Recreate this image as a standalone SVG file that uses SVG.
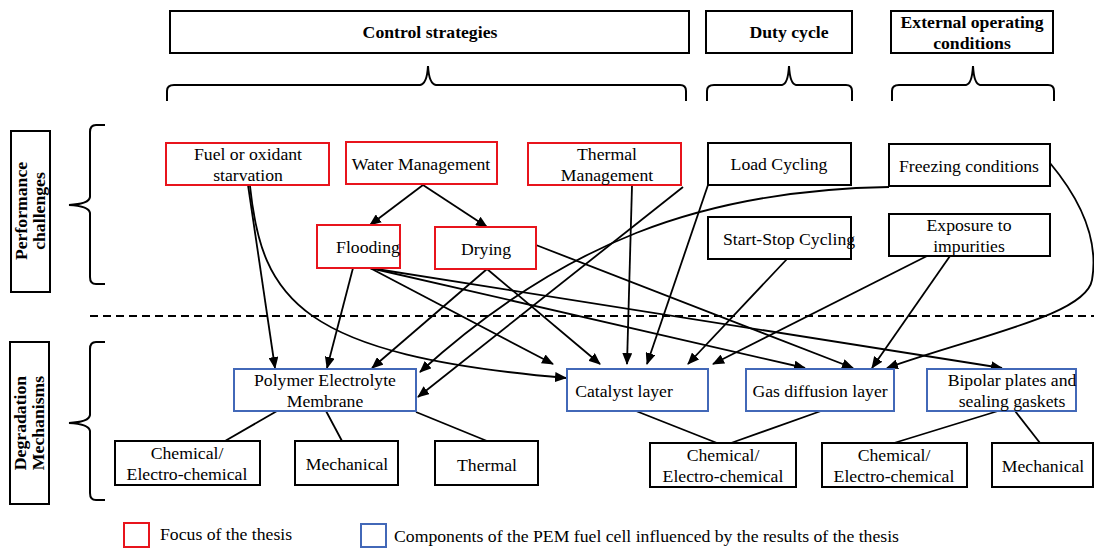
<svg xmlns="http://www.w3.org/2000/svg" width="1094" height="548" viewBox="0 0 1094 548">
<style>
text{font-family:"Liberation Serif","Times New Roman",serif;font-size:17.7px;fill:#000;text-anchor:middle}
.b{font-weight:bold}
.lg{text-anchor:start}
.bx{fill:#fff;stroke:#000;stroke-width:2}
.red{fill:#fff;stroke:#e8141c;stroke-width:2}
.blue{fill:#fff;stroke:#4268b8;stroke-width:2}
.br{fill:none;stroke:#000;stroke-width:2}
.c{fill:none;stroke:#000;stroke-width:1.8}
.a{marker-end:url(#ah)}
</style>
<defs>
<marker id="ah" markerUnits="userSpaceOnUse" markerWidth="12" markerHeight="10" refX="11" refY="5" orient="auto">
<path d="M0,0 L12,5 L0,10 z" fill="#000"/>
</marker>
</defs>
<rect width="1094" height="548" fill="#fff"/>

<g id="headers">
<g id="h-control"><rect class="bx" x="170" y="11" width="519" height="42"/><text class="b" x="430" y="38">Control strategies</text></g>
<g id="h-duty"><rect class="bx" x="706" y="11" width="146" height="42"/><text class="b" x="789" y="38">Duty cycle</text></g>
<g id="h-ext"><rect class="bx" x="891" y="11" width="162" height="42"/><text class="b" x="972" y="28">External operating</text><text class="b" x="972" y="49">conditions</text></g>
</g>

<g id="braces">
<path class="br" d="M167,101 L167,91 Q167,85 174,85 L420,85 Q427,84 428,66 Q429,84 436,85 L680,85 Q686,85 686,91 L686,101"/>
<path class="br" d="M707,101 L707,91 Q707,85 714,85 L782,85 Q788,84 789,66 Q790,84 796,85 L846,85 Q852,85 852,91 L852,101"/>
<path class="br" d="M892,101 L892,91 Q892,85 899,85 L966,85 Q972,84 973,66 Q974,84 980,85 L1048,85 Q1054,85 1054,91 L1054,101"/>
<path class="br" d="M105,125 L96,125 Q90,125 90,132 L90,197 Q89,204 69,205 Q89,206 90,213 L90,277 Q90,284 96,284 L105,284"/>
<path class="br" d="M105,342 L96,342 Q90,342 90,349 L90,415 Q89,422 69,423 Q89,424 90,431 L90,493 Q90,500 96,500 L105,500"/>
</g>

<g id="side-labels">
<g id="perf"><rect class="bx" x="11" y="131" width="39" height="161"/><text class="b" transform="translate(30,211) rotate(-90)"><tspan x="0" y="-3">Performance</tspan><tspan x="0" y="15">challenges</tspan></text></g>
<g id="deg"><rect class="bx" x="10" y="342" width="39" height="162"/><text class="b" transform="translate(29,423) rotate(-90)"><tspan x="0" y="-3">Degradation</tspan><tspan x="0" y="15">Mechanisms</tspan></text></g>
</g>

<line x1="90" y1="316" x2="1094" y2="316" stroke="#000" stroke-width="2" stroke-dasharray="8,5"/>

<g id="connectors">
<line class="c a" x1="423" y1="185" x2="370" y2="225"/>
<line class="c a" x1="423" y1="185" x2="487" y2="227"/>
<line class="c a" x1="248" y1="185" x2="275" y2="368"/>
<path class="c a" d="M250,186 C262,300 300,355 566,378"/>
<line class="c a" x1="353" y1="268" x2="327" y2="368"/>
<line class="c a" x1="370" y1="268" x2="553" y2="364"/>
<line class="c a" x1="370" y1="268" x2="805" y2="368"/>
<line class="c a" x1="370" y1="268" x2="1002" y2="368"/>
<line class="c a" x1="487" y1="269" x2="372" y2="368"/>
<line class="c a" x1="487" y1="269" x2="600" y2="364"/>
<line class="c a" x1="536" y1="245" x2="853" y2="368"/>
<line class="c a" x1="632" y1="186" x2="627" y2="364"/>
<line class="c a" x1="683" y1="187" x2="418" y2="397"/>
<line class="c a" x1="708" y1="185" x2="647" y2="364"/>
<line class="c a" x1="787" y1="259" x2="688" y2="364"/>
<line class="c a" x1="927" y1="256" x2="713" y2="364"/>
<line class="c a" x1="950" y1="256" x2="872" y2="368"/>
<path class="c a" d="M889,187 C700,190 560,245 420,372"/>
<path class="c a" d="M1050,163 C1085,205 1098,245 1092,280 S980,335 887,368"/>
<line class="c" x1="277" y1="411" x2="225" y2="441"/>
<line class="c" x1="326" y1="411" x2="342" y2="441"/>
<line class="c" x1="416" y1="412" x2="487" y2="441"/>
<line class="c" x1="636" y1="411" x2="717" y2="443"/>
<line class="c" x1="821" y1="411" x2="731" y2="443"/>
<line class="c" x1="998" y1="411" x2="894" y2="443"/>
<line class="c" x1="1015" y1="411" x2="1040" y2="443"/>
</g>

<g id="fuel"><rect class="red" x="166" y="143" width="163" height="42"/><text x="248" y="160">Fuel or oxidant</text><text x="248" y="181">starvation</text></g>
<g id="water"><rect class="red" x="346" y="142" width="151" height="42"/><text x="421" y="170">Water Management</text></g>
<g id="thermalm"><rect class="red" x="528" y="143" width="153" height="42"/><text x="607" y="160">Thermal</text><text x="607" y="181">Management</text></g>
<g id="load"><rect class="bx" x="708" y="143" width="143" height="42"/><text x="779" y="170">Load Cycling</text></g>
<g id="freezing"><rect class="bx" x="889" y="144" width="161" height="42"/><text x="969" y="172">Freezing conditions</text></g>
<g id="flooding"><rect class="red" x="317" y="225" width="83" height="43"/><text x="368" y="253">Flooding</text></g>
<g id="drying"><rect class="red" x="435" y="227" width="101" height="42"/><text x="486" y="255">Drying</text></g>
<g id="startstop"><rect class="bx" x="708" y="217" width="143" height="42"/><text x="789" y="245">Start-Stop Cycling</text></g>
<g id="exposure"><rect class="bx" x="889" y="214" width="161" height="42"/><text x="969" y="231">Exposure to</text><text x="969" y="252">impurities</text></g>

<g id="pem"><rect class="blue" x="234" y="369" width="182" height="42"/><text x="325" y="386">Polymer Electrolyte</text><text x="325" y="407">Membrane</text></g>
<g id="catalyst"><rect class="blue" x="567" y="369" width="141" height="42"/><text x="624" y="397">Catalyst layer</text></g>
<g id="gdl"><rect class="blue" x="746" y="369" width="148" height="42"/><text x="820" y="397">Gas diffusion layer</text></g>
<g id="bipolar"><rect class="blue" x="927" y="369" width="149" height="42"/><text x="1012" y="386">Bipolar plates and</text><text x="1012" y="407">sealing gaskets</text></g>

<g id="chem1"><rect class="bx" x="115" y="441" width="145" height="44"/><text x="187" y="459">Chemical/</text><text x="187" y="480">Electro-chemical</text></g>
<g id="mech1"><rect class="bx" x="295" y="441" width="103" height="44"/><text x="347" y="470">Mechanical</text></g>
<g id="thermal"><rect class="bx" x="435" y="441" width="103" height="44"/><text x="487" y="471">Thermal</text></g>
<g id="chem2"><rect class="bx" x="650" y="443" width="146" height="44"/><text x="723" y="461">Chemical/</text><text x="723" y="482">Electro-chemical</text></g>
<g id="chem3"><rect class="bx" x="822" y="443" width="145" height="44"/><text x="894" y="461">Chemical/</text><text x="894" y="482">Electro-chemical</text></g>
<g id="mech2"><rect class="bx" x="992" y="443" width="101" height="44"/><text x="1043" y="472">Mechanical</text></g>

<g id="legend">
<rect class="red" x="124" y="523" width="25" height="24"/>
<text class="lg" x="160" y="540">Focus of the thesis</text>
<rect class="blue" x="361" y="524" width="25" height="23"/>
<text class="lg" x="394" y="542">Components of the PEM fuel cell influenced by the results of the thesis</text>
</g>
</svg>
